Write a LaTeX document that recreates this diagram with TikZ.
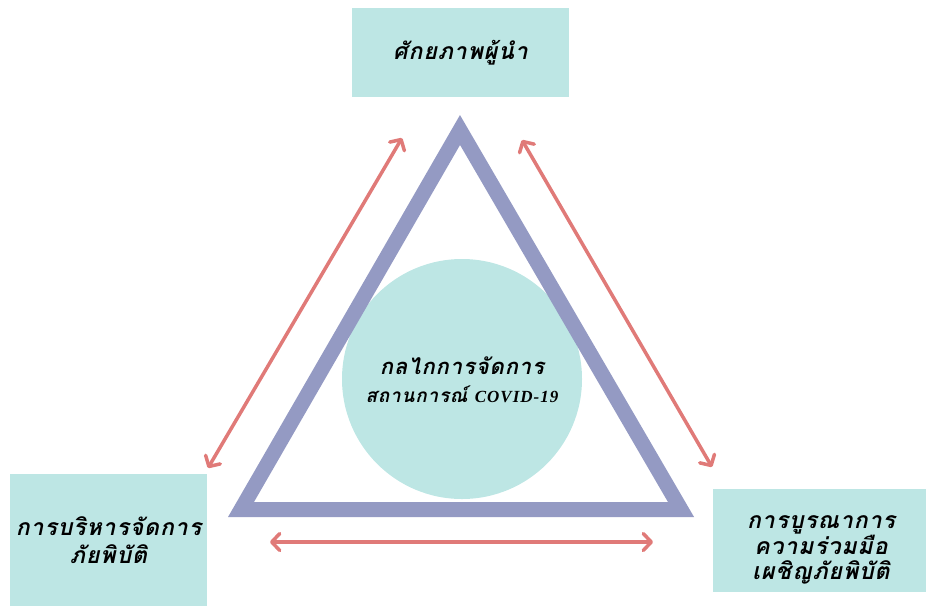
\documentclass[tikz,border=0pt]{standalone}
\usepackage{fontspec}
\setmainfont{Liberation Serif}
\newfontfamily\thaifont[Script=Thai, LetterSpace=4]{Loma}
\newfontfamily\latfont[LetterSpace=6]{Liberation Serif}
\usetikzlibrary{arrows.meta}
\definecolor{boxfill}{HTML}{BDE6E4}
\definecolor{tri}{HTML}{949AC3}
\definecolor{arr}{HTML}{E07A78}
\tikzset{
  boxfont/.style={font=\thaifont\bfseries\itshape\fontsize{23}{28}\selectfont},
  labelbox/.style={fill=boxfill, draw=none, align=center, inner sep=0pt, boxfont},
  labeltext/.style={align=center, inner sep=0pt, boxfont},
  link/.style={draw=arr, line width=3.5pt,
    {Straight Barb[length=8pt,width=17pt,round]}-{Straight Barb[length=8pt,width=17pt,round]}},
  triline/.style={draw=tri, line width=15pt, line join=miter}
}
\begin{document}
\begin{tikzpicture}[x=1pt, y=-1pt]
\useasboundingbox (0,0) rectangle (926,606);
% boxes
\node[labelbox, minimum width=217pt, minimum height=89pt] (lead) at (460.5,52.5) {ศักยภาพผู้นำ};
\node[labelbox, minimum width=197pt, minimum height=132pt] (mgmt) at (108.5,540) {การบริหารจัดการ\\ภัยพิบัติ};
\node[labelbox, minimum width=213pt, minimum height=103pt] (coop) at (819.5,540.5) {};
\node[labeltext, font=\thaifont\bfseries\itshape\fontsize{23}{25}\selectfont] (cooptext) at (821,550) {การบูรณาการ\\ความร่วมมือ\\เผชิญภัยพิบัติ};
% circle
\node[circle, fill=boxfill, minimum size=240pt, inner sep=0pt] (hub) at (462,379) {};
% triangle
\coordinate (tl) at (241,509.5);
\coordinate (tt) at (460,130);
\coordinate (tr) at (681,509.5);
\draw[triline] (tl) -- (tt) -- (tr) -- cycle;
% hub text
\node[labeltext, font=\thaifont\bfseries\itshape\fontsize{19}{28}\selectfont] (hubtext) at (462,380)
  {{\fontsize{22}{28}\selectfont กลไกการจัดการ}\\สถานการณ์ {\latfont\fontsize{17}{28}\selectfont COVID-19}};
% arrows
\coordinate (l1) at (402,138);
\coordinate (l2) at (208,468);
\coordinate (r1) at (522,140);
\coordinate (r2) at (712,467);
\coordinate (b1) at (270,542);
\coordinate (b2) at (653,542);
\draw[link] (l1) -- (l2);
\draw[link] (r1) -- (r2);
\draw[link] (b1) -- (b2);
\end{tikzpicture}
\end{document}
